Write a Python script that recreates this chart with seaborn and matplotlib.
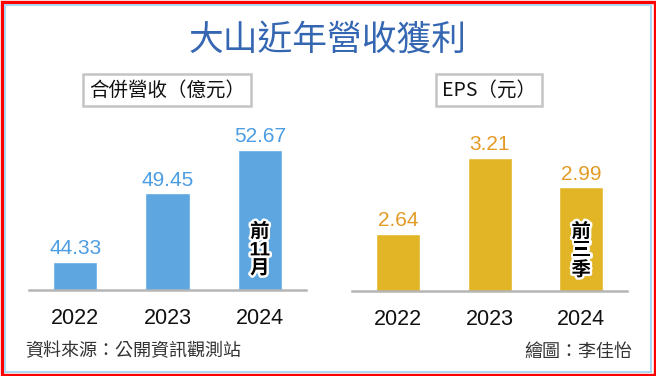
"""Recreate the 大山近年營收獲利 revenue / EPS bar chart."""

import matplotlib
matplotlib.use("Agg")
import matplotlib.pyplot as plt
import matplotlib.patheffects as pe
from matplotlib.patches import Rectangle
import pandas as pd
import seaborn as sns

YEARS = ["2022", "2023", "2024"]
REVENUE = [44.33, 49.45, 52.67]
REVENUE_LABELS = ["44.33", "49.45", "52.67"]
EPS = [2.64, 3.21, 2.99]
EPS_LABELS = ["2.64", "3.21", "2.99"]

TITLE = "大山近年營收獲利"
REVENUE_TITLE = "合併營收（億元）"
EPS_TITLE = "EPS（元）"
REVENUE_NOTE = "前\n11\n月"
EPS_NOTE = "前\n三\n季"
SOURCE = "資料來源：公開資訊觀測站"
CREDIT = "繪圖：李佳怡"

W, H = 656, 376
FONT = ["Liberation Sans", "Noto Sans CJK TC", "DejaVu Sans"]
CJK = ["Noto Sans CJK TC", "DejaVu Sans"]


def px_axes(fig, left, top, right, bottom):
    """Add an axes given pixel edges (origin top-left)."""
    return fig.add_axes([left / W, 1 - bottom / H, (right - left) / W, (bottom - top) / H])


def draw_panel(ax, values, labels, note, bar_color, label_color, ylim):
    df = pd.DataFrame({"year": YEARS, "value": values})
    sns.barplot(data=df, x="year", y="value", color=bar_color, saturation=1,
                width=0.48, ax=ax)
    ax.set_xlim(-0.5, 2.5)
    ax.set_ylim(*ylim)
    ax.set_xlabel("")
    ax.set_ylabel("")
    ax.set_yticks([])
    for side in ["left", "right", "top"]:
        ax.spines[side].set_visible(False)
    ax.spines["bottom"].set_color("#b5b5b5")
    ax.spines["bottom"].set_linewidth(1.8)
    ax.tick_params(axis="x", length=6, width=1.4, color="#b5b5b5", pad=7,
                   labelsize=15.5, labelcolor="#111111")
    for lbl in ax.get_xticklabels():
        lbl.set_fontfamily(FONT)
    ax.patch.set_alpha(0)

    for i, (v, t) in enumerate(zip(values, labels)):
        ax.annotate(t, (i, v), xytext=(0, 5.5), textcoords="offset points",
                    ha="center", va="baseline", fontsize=15,
                    color=label_color, family=FONT)

    # vertical note inside the last bar, centred about 40px above the axis
    ax.text(2, 0.235, note, transform=ax.get_xaxis_transform(),
            ha="center", va="center", fontsize=14, fontweight="bold",
            color="black", family=FONT, linespacing=1.08,
            path_effects=[pe.withStroke(linewidth=3.5, foreground="white")])


def main():
    sns.set_style("white")
    plt.rcParams["font.family"] = FONT

    fig = plt.figure(figsize=(W / 100, H / 100), dpi=100)
    fig.patch.set_facecolor("white")

    # frame: red outer border and light blue inner line
    fig.add_artist(Rectangle((1.5 / W, 1.5 / H), 1 - 3 / W, 1 - 3 / H,
                             transform=fig.transFigure, fill=False,
                             ec="#ff0000", lw=2.4))
    fig.add_artist(Rectangle((5 / W, 4.5 / H), 1 - 10 / W, 1 - 9.5 / H,
                             transform=fig.transFigure, fill=False,
                             ec="#aad6f5", lw=1.4))

    ax1 = px_axes(fig, 29, 120, 306, 290)
    draw_panel(ax1, REVENUE, REVENUE_LABELS, REVENUE_NOTE, "#5ea6e0", "#4c9de2",
               (42.245, 54.90))

    ax2 = px_axes(fig, 352, 121, 627, 291)
    draw_panel(ax2, EPS, EPS_LABELS, EPS_NOTE, "#e2b526", "#e39b26",
               (2.212, 3.487))

    fig.text(328 / W, 1 - 41 / H, TITLE, ha="center", va="center", fontsize=25,
             fontweight="medium", color="#3566b2", family=CJK)

    box = dict(boxstyle="square,pad=0.3", fc="white", ec="#c4c4c4", lw=1.8)
    fig.text(167 / W, 1 - 90 / H, REVENUE_TITLE, ha="center", va="center",
             fontsize=14, color="#111111", family=CJK, bbox=box)
    fig.text(489 / W, 1 - 90 / H, EPS_TITLE, ha="center", va="center",
             fontsize=14, color="#111111", family=CJK, bbox=box)

    fig.text(25 / W, 1 - 351 / H, SOURCE, ha="left", va="center", fontsize=13,
             color="#333333", family=CJK)
    fig.text(632 / W, 1 - 352 / H, CREDIT, ha="right", va="center", fontsize=13,
             color="#333333", family=CJK)

    fig.savefig("out.png", dpi=100)
    plt.close(fig)


if __name__ == "__main__":
    main()
